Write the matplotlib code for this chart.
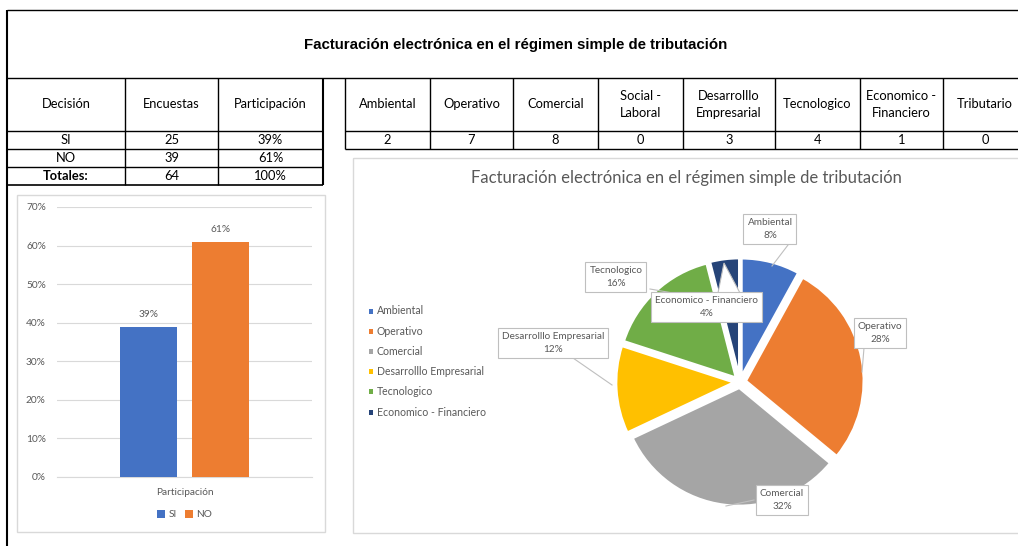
import matplotlib
matplotlib.use("Agg")
import matplotlib.pyplot as plt
from matplotlib.patches import Rectangle, Polygon

# ---- data ----
decision = ["SI", "NO"]
encuestas = [25, 39]
participacion = [0.39, 0.61]

areas = ["Ambiental", "Operativo", "Comercial", "Social -\nLaboral", "Desarrolllo\nEmpresarial",
         "Tecnologico", "Economico -\nFinanciero", "Tributario"]
votos_si = [2, 7, 8, 0, 3, 4, 1, 0]

pie_labels = ["Ambiental", "Operativo", "Comercial", "Desarrolllo Empresarial",
              "Tecnologico", "Economico - Financiero"]
pie_values = [2, 7, 8, 3, 4, 1]
pie_colors = ["#4472C4", "#ED7D31", "#A5A5A5", "#FFC000", "#70AD47", "#264478"]

titulo = "Facturación electrónica en el régimen simple de tributación"

W, H = 1018, 546
FONT = "Lato"
GRAY = "#595959"

fig = plt.figure(figsize=(W / 100, H / 100), dpi=100)
bg = fig.add_axes([0, 0, 1, 1])
bg.set_xlim(0, W)
bg.set_ylim(H, 0)
bg.axis("off")

def hline(y, x0, x1, lw=1.0):
    bg.plot([x0, x1], [y, y], color="black", lw=lw, solid_capstyle="butt")

def vline(x, y0, y1, lw=1.0):
    bg.plot([x, x], [y0, y1], color="black", lw=lw, solid_capstyle="butt")

# ---- sheet frame ----
hline(10, 7, W)
vline(7.5, 10, H, lw=1.5)
hline(78, 7, W)
bg.text(516, 45, titulo, ha="center", va="center", fontsize=10.8, fontweight="bold",
        family="Liberation Sans")

# ---- left table ----
lx = [7, 125, 218, 323]
ly = [78, 131, 149, 167, 185]
for y in ly[1:]:
    hline(y, lx[0], lx[-1], lw=1.2 if y == 185 else 1.0)
for x in lx[1:]:
    vline(x, ly[0], ly[-1], lw=1.5 if x == 323 else 1.0)
hdr = ["Decisión", "Encuestas", "Participación"]
for i, h in enumerate(hdr):
    bg.text((lx[i] + lx[i + 1]) / 2, 104.5, h, ha="center", va="center", fontsize=9.3, family=FONT)
rows = [[d, str(e), f"{p:.0%}"] for d, e, p in zip(decision, encuestas, participacion)]
rows.append(["Totales:", str(sum(encuestas)), f"{sum(participacion):.0%}"])
for r, row in enumerate(rows):
    for i, v in enumerate(row):
        bg.text((lx[i] + lx[i + 1]) / 2, (ly[r + 1] + ly[r + 2]) / 2, v, ha="center", va="center",
                fontsize=9.3, family=FONT, fontweight="bold" if (r == 2 and i == 0) else "normal")

# ---- right table ----
rx = [345, 430, 513, 598, 683, 775, 860, 943, 1027]
hline(131, rx[0], W)
hline(149, rx[0], W)
for x in rx[:-1]:
    vline(x, 78, 149)
for i, (a, v) in enumerate(zip(areas, votos_si)):
    cx = (rx[i] + rx[i + 1]) / 2
    bg.text(cx, 104.5, a, ha="center", va="center", fontsize=9.3, family=FONT, linespacing=1.45)
    bg.text(cx, 140, str(v), ha="center", va="center", fontsize=9.3, family=FONT)

# ---- chart frames ----
bg.add_patch(Rectangle((17, 195), 308, 337, fill=False, edgecolor="#d9d9d9", lw=1))
bg.add_patch(Rectangle((353, 158), 680, 375, fill=False, edgecolor="#d9d9d9", lw=1))

# ---- bar chart ----
px0, px1, py0, py1 = 57, 312, 207, 477
ax = fig.add_axes([px0 / W, (H - py1) / H, (px1 - px0) / W, (py1 - py0) / H])
ax.set_xlim(-0.5, 0.5)
ax.set_ylim(0, 0.7)
offs = [-0.141, 0.141]
for o, v, c, lab in zip(offs, participacion, pie_colors[:2], decision):
    ax.bar(o, v, width=0.227, color=c, label=lab, zorder=3)
    ax.text(o, v + 0.02, f"{v:.0%}", ha="center", va="bottom", fontsize=7.3, color=GRAY, family=FONT)
ax.set_yticks([i / 10 for i in range(8)])
ax.set_yticklabels([f"{i * 10}%" for i in range(8)], fontsize=7.3, color=GRAY, family=FONT)
ax.yaxis.grid(True, color="#d9d9d9", lw=0.8, zorder=0)
ax.set_xticks([0])
ax.set_xticklabels(["Participación"], fontsize=7.3, color=GRAY, family=FONT)
ax.tick_params(length=0, pad=8)
for s in ["top", "right", "left"]:
    ax.spines[s].set_visible(False)
ax.spines["bottom"].set_color("#d9d9d9")
ax.legend(loc="center", bbox_to_anchor=(0.5, -0.139), ncol=2, frameon=False,
          handlelength=0.8, handleheight=0.8, handletextpad=0.3, columnspacing=0.8,
          prop={"family": FONT, "size": 7.3}, labelcolor=GRAY)

# ---- pie chart ----
cx, cy, R, lim = 740, 382, 118, 1.35
side = 2 * lim * R
pa = fig.add_axes([(cx - side / 2) / W, (H - cy - side / 2) / H, side / W, side / H])
wedges, _ = pa.pie(pie_values, colors=pie_colors, startangle=90, counterclock=False,
                   explode=[0.05] * len(pie_values), radius=1,
                   wedgeprops=dict(edgecolor="white", linewidth=1.8))
pa.set_xlim(-lim, lim)
pa.set_ylim(-lim, lim)
pa.set_aspect("equal")
pa.axis("off")

bg.text(686, 178, titulo, ha="center", va="center", fontsize=12, color=GRAY, family=FONT)

# legend
for i, (lab, c) in enumerate(zip(pie_labels, pie_colors)):
    y = 311 + i * 20.2
    bg.add_patch(Rectangle((369, y - 2.5), 4, 5, color=c, lw=0))
    bg.text(377, y, lab, ha="left", va="center", fontsize=7.6, color=GRAY, family=FONT)

# data labels (boxes) placed over the pie
total = sum(pie_values)
box_pos = [(770, 229), (880, 333), (782, 500), (553, 343), (616, 277), (707, 307)]
leaders = [[(788, 245), (772, 266)], [(864, 348), (862, 372)], [(754, 500), (726, 506)],
           [(573, 358), (612, 385)], [(650, 289), (690, 296)], None]
tr = bg.transData
for lab, v, (bx, by), ld in zip(pie_labels, pie_values, box_pos, leaders):
    if ld is not None:
        pa.plot([p[0] for p in ld], [p[1] for p in ld], color="#bfbfbf", lw=0.8,
                transform=tr, clip_on=False)
    pa.text(bx, by, f"{lab}\n{v / total:.0%}", transform=tr, ha="center", va="center",
            fontsize=7.2, color=GRAY, family=FONT, linespacing=1.5, clip_on=False, zorder=5,
            bbox=dict(boxstyle="square,pad=0.4", fc="white", ec="#bfbfbf", lw=0.8))
# callout pointer of the Economico - Financiero box
pa.add_patch(Polygon([(718, 293), (724, 263), (740, 293)], closed=True, fc="white",
                     ec="#bfbfbf", lw=0.8, transform=tr, clip_on=False, zorder=4))

fig.savefig("out.png", dpi=100)
